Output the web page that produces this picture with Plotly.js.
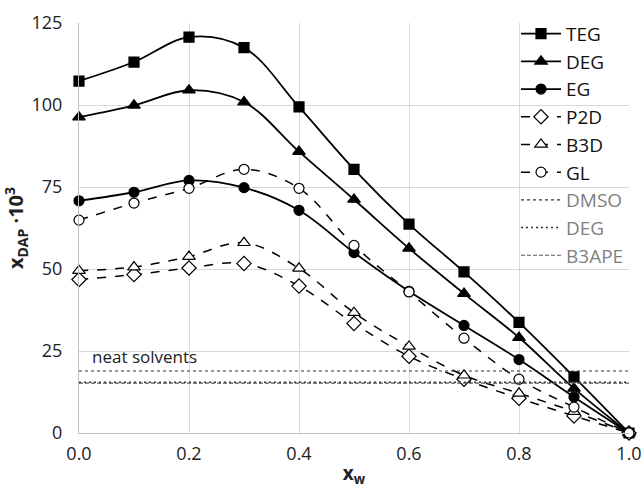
<!DOCTYPE html>
<html>
<head>
<meta charset="utf-8">
<script src="https://cdn.plot.ly/plotly-3.0.1.min.js"></script>
<style>html,body{margin:0;padding:0;background:#fff;}#chart{width:644px;height:488px;}</style>
</head>
<body>
<div id="chart"></div>
<script>
const xw = [0.0, 0.1, 0.2, 0.3, 0.4, 0.5, 0.6, 0.7, 0.8, 0.9, 1.0];
const TEG = [107.3, 113.1, 120.7, 117.5, 99.4, 80.4, 63.7, 49.1, 33.7, 17.1, 0];
const DEG = [96.3, 99.9, 104.5, 100.9, 85.8, 71.2, 56.3, 42.5, 29.1, 13.6, 0];
const EG  = [70.8, 73.4, 77.0, 74.8, 67.9, 55.0, 43.2, 32.8, 22.4, 11.0, 0];
const P2D = [46.8, 48.3, 50.3, 51.7, 44.8, 33.4, 23.4, 16.4, 10.6, 5.2, 0];
const B3D = [49.5, 50.6, 53.8, 58.0, 50.2, 36.7, 26.4, 17.6, 12.1, 6.5, 0];
const GL  = [64.9, 70.1, 74.6, 80.4, 74.6, 57.2, 43.0, 28.9, 16.4, 7.9, 0];
const neatX = [0, 1];
const neatDMSO = 18.9;
const neatDEG = 15.5;
const neatB3APE = 15.2;
const xTicks = [0, 0.2, 0.4, 0.6, 0.8, 1.0];
const xTickText = ['0.0', '0.2', '0.4', '0.6', '0.8', '1.0'];
const yTicks = [0, 25, 50, 75, 100, 125];

function mk(y, name, sym, filled, dash, size) {
  return {
    x: xw, y: y, name: name, type: 'scatter', mode: 'lines+markers',
    line: {color: '#000', width: dash === 'solid' ? 1.8 : 1.5, dash: dash, shape: 'spline', smoothing: 1},
    marker: {symbol: sym, size: size, color: filled ? '#000' : '#fff', line: {color: '#000', width: 1.2}},
    cliponaxis: false
  };
}
const grey = '#7f7f7f';
const traces = [
  mk(TEG, 'TEG', 'square', true, 'solid', 10),
  mk(DEG, 'DEG', 'triangle-up', true, 'solid', 11),
  mk(EG, 'EG', 'circle', true, 'solid', 10),
  mk(P2D, 'P2D', 'diamond', false, 'dash', 11),
  mk(B3D, 'B3D', 'triangle-up', false, 'dash', 11),
  mk(GL, 'GL', 'circle', false, 'dash', 10),
  {x: neatX, y: [neatDMSO, neatDMSO], name: '<span style="color:' + grey + '">DMSO</span>', mode: 'lines', line: {color: '#333', width: 1.2, dash: 'dot'}},
  {x: neatX, y: [neatDEG, neatDEG], name: '<span style="color:' + grey + '">DEG</span>', mode: 'lines', line: {color: '#333', width: 1.5, dash: '2px,3px'}},
  {x: neatX, y: [neatB3APE, neatB3APE], name: '<span style="color:' + grey + '">B3APE</span>', mode: 'lines', line: {color: '#555', width: 1.2, dash: '4px,2px'}}
];
const layout = {
  width: 644, height: 488,
  margin: {l: 79, r: 15, t: 23, b: 55},
  paper_bgcolor: '#fff', plot_bgcolor: '#fff',
  font: {family: 'Open Sans, sans-serif', size: 16, color: '#222'},
  showlegend: true,
  legend: {x: 1.0, xanchor: 'right', y: 1.02, yanchor: 'top', bgcolor: 'rgba(0,0,0,0)',
           font: {size: 19, color: '#111'}, tracegroupgap: 0, itemwidth: 40, maxheight: 420},
  xaxis: {range: [0, 1], tickvals: xTicks, ticktext: xTickText, showgrid: true, gridcolor: '#d9d9d9',
          showline: true, linecolor: '#bfbfbf', linewidth: 1, zeroline: false, ticks: '',
          ticklabelstandoff: 4,
          tickfont: {size: 18, color: '#222'},
          title: {text: '<b>x</b><sub><b>w</b></sub>', font: {size: 19, color: '#222'}, standoff: 8}},
  yaxis: {range: [0, 125], tickvals: yTicks, showgrid: true, gridcolor: '#d9d9d9',
          showline: true, linecolor: '#bfbfbf', linewidth: 1, zeroline: false, ticks: '',
          ticklabelstandoff: 12,
          tickfont: {size: 18, color: '#222'},
          title: {text: '<b>x</b><sub><b>DAP</b></sub><b> ·10</b><sup><b>3</b></sup>', font: {size: 20, color: '#222'}, standoff: 5}},
  annotations: [{x: 0.02, y: 23.2, xref: 'x', yref: 'y', text: 'neat solvents', showarrow: false,
                 xanchor: 'left', yanchor: 'middle', font: {size: 17, color: '#222'}}]
};
Plotly.newPlot('chart', traces, layout, {displayModeBar: false, staticPlot: true});
</script>
</body>
</html>
